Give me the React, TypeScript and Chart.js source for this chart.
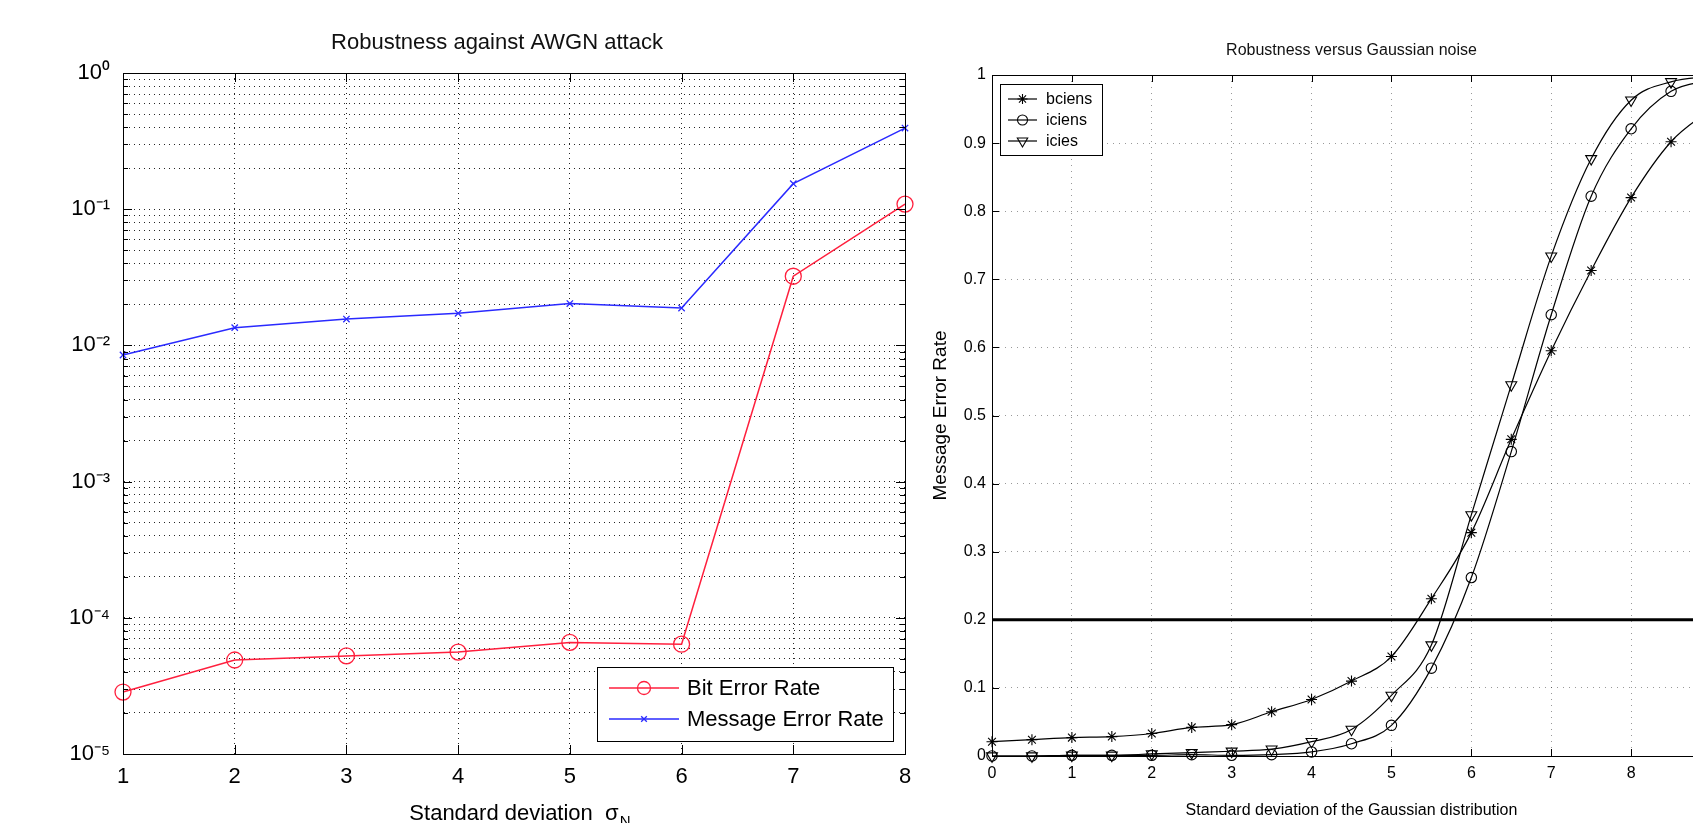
import React, { useEffect, useRef } from 'react';
import { Chart, registerables } from 'chart.js';

Chart.register(...registerables);

// ---------------- Left chart data ----------------
const sigmaN = [1, 2, 3, 4, 5, 6, 7, 8];
const bitErrorRate = [2.85e-5, 4.9e-5, 5.25e-5, 5.6e-5, 6.6e-5, 6.4e-5, 0.0322, 0.109];
const messageErrorRate = [0.0085, 0.0135, 0.0156, 0.0172, 0.0203, 0.0188, 0.154, 0.394];
const leftYExponents = [-5, -4, -3, -2, -1, 0];
const leftXTickValues = [1, 2, 3, 4, 5, 6, 7, 8];

// ---------------- Right chart data ----------------
const gaussianStd = [0, 0.5, 1, 1.5, 2, 2.5, 3, 3.5, 4, 4.5, 5, 5.5, 6, 6.5, 7, 7.5, 8, 8.5, 9];
const bciens = [0.021, 0.024, 0.027, 0.0285, 0.033, 0.042, 0.046, 0.065, 0.083, 0.11, 0.146, 0.231, 0.328, 0.465, 0.595, 0.713, 0.82, 0.902, 0.95];
const iciens = [0.0, 0.0, 0.001, 0.001, 0.001, 0.002, 0.001, 0.002, 0.006, 0.018, 0.045, 0.129, 0.262, 0.447, 0.648, 0.822, 0.921, 0.976, 0.993];
const icies = [0.0, 0.0, 0.001, 0.001, 0.003, 0.005, 0.007, 0.01, 0.021, 0.039, 0.089, 0.163, 0.354, 0.545, 0.734, 0.877, 0.963, 0.99, 0.998];
const thresholdX = [0, 9];
const thresholdY = [0.2, 0.2];
const rightYTickLabels = ['0', '0.1', '0.2', '0.3', '0.4', '0.5', '0.6', '0.7', '0.8', '0.9', '1'];
const rightXTickLabels = ['0', '1', '2', '3', '4', '5', '6', '7', '8', '9'];

const FONT_SANS = '"Liberation Sans", Arial, Helvetica, sans-serif';

const SUP: Record<string, string> = {
  '-': '\u207B', '0': '\u2070', '1': '\u00B9', '2': '\u00B2', '3': '\u00B3',
  '4': '\u2074', '5': '\u2075', '6': '\u2076', '7': '\u2077', '8': '\u2078', '9': '\u2079',
};
const toSup = (s: string) => s.split('').map((c) => SUP[c] ?? c).join('');
const isDecade = (v: number) => Math.abs(Math.log10(v) - Math.round(Math.log10(v))) < 1e-6;

const zip = (xs: number[], ys: number[]) => xs.map((x, i) => ({ x, y: ys[i] }));

function drawMarker(ctx: CanvasRenderingContext2D, style: string, x: number, y: number, r: number, color: string, lw: number) {
  ctx.save();
  ctx.setLineDash([]);
  ctx.strokeStyle = color;
  ctx.lineWidth = lw;
  ctx.beginPath();
  if (style === 'circle') {
    ctx.arc(x, y, r, 0, Math.PI * 2);
  } else if (style === 'crossRot' || style === 'star') {
    const d = r * Math.SQRT1_2;
    ctx.moveTo(x - d, y - d); ctx.lineTo(x + d, y + d);
    ctx.moveTo(x - d, y + d); ctx.lineTo(x + d, y - d);
    if (style === 'star') {
      ctx.moveTo(x - r, y); ctx.lineTo(x + r, y);
      ctx.moveTo(x, y - r); ctx.lineTo(x, y + r);
    }
  } else if (style === 'triangleDown') {
    const s = r * Math.sin(Math.PI / 3);
    ctx.moveTo(x, y + r);
    ctx.lineTo(x - s, y - r / 2);
    ctx.lineTo(x + s, y - r / 2);
    ctx.closePath();
  }
  ctx.stroke();
  ctx.restore();
}

// Draws the MATLAB-like closed box, inward tick marks and a boxed legend.
const matlabFrame = {
  id: 'matlabFrame',
  afterDraw(chart: any, _args: any, opts: any) {
    const { ctx, chartArea } = chart;
    const { left, right, top, bottom } = chartArea;
    const xs = chart.scales.x;
    const ys = chart.scales.y;
    ctx.save();
    ctx.setLineDash([]);
    ctx.strokeStyle = '#000';
    ctx.lineWidth = 1;
    ctx.beginPath();
    xs.ticks.forEach((t: any) => {
      const px = Math.round(xs.getPixelForValue(t.value)) + 0.5;
      const len = opts.majorLen;
      ctx.moveTo(px, bottom); ctx.lineTo(px, bottom - len);
      ctx.moveTo(px, top); ctx.lineTo(px, top + len);
    });
    ys.ticks.forEach((t: any) => {
      const py = Math.round(ys.getPixelForValue(t.value)) + 0.5;
      const major = opts.log ? isDecade(t.value) : true;
      const len = major ? opts.majorLen : opts.minorLen;
      ctx.moveTo(left, py); ctx.lineTo(left + len, py);
      ctx.moveTo(right, py); ctx.lineTo(right - len, py);
    });
    ctx.stroke();
    ctx.lineWidth = opts.frameWidth || 1;
    ctx.strokeRect(Math.round(left) + 0.5, Math.round(top) + 0.5, Math.round(right - left), Math.round(bottom - top));

    // subscript after the x-axis title (left chart)
    if (opts.xSub) {
      const tOpts = xs.options.title;
      const fs = tOpts.font.size;
      ctx.font = `${fs}px ${tOpts.font.family}`;
      const w = ctx.measureText(tOpts.text).width;
      const cx = (left + right) / 2;
      const cy = xs.bottom - fs * 1.2 / 2 - tOpts.padding.bottom;
      ctx.fillStyle = '#000';
      ctx.font = `${Math.round(fs * 0.7)}px ${tOpts.font.family}`;
      ctx.textBaseline = 'middle';
      ctx.textAlign = 'left';
      ctx.fillText(opts.xSub, cx + w / 2 + 1, cy + fs * 0.35);
    }

    // legend
    const L = opts.legend;
    if (L) {
      const bx = L.anchor === 'br' ? right - L.offX - L.w : left + L.offX;
      const by = L.anchor === 'br' ? bottom - L.offY - L.h : top + L.offY;
      ctx.fillStyle = '#fff';
      ctx.fillRect(bx, by, L.w, L.h);
      ctx.strokeStyle = '#000';
      ctx.lineWidth = 1;
      ctx.strokeRect(Math.round(bx) + 0.5, Math.round(by) + 0.5, L.w, L.h);
      ctx.font = `${L.fontSize}px ${L.fontFamily}`;
      ctx.textAlign = 'left';
      ctx.textBaseline = 'middle';
      L.items.forEach((it: any, i: number) => {
        const ds = chart.data.datasets[it.ds];
        const ry = by + L.rows[i];
        ctx.strokeStyle = ds.borderColor;
        ctx.lineWidth = ds.borderWidth;
        ctx.beginPath();
        ctx.moveTo(bx + L.lineX0, ry);
        ctx.lineTo(bx + L.lineX1, ry);
        ctx.stroke();
        drawMarker(ctx, it.marker, bx + (L.lineX0 + L.lineX1) / 2, ry, it.r, ds.borderColor, it.lw);
        ctx.fillStyle = '#000';
        ctx.fillText(ds.label, bx + L.textX, ry + 1);
      });
    }
    ctx.restore();
  },
};

function leftConfig(): any {
  return {
    type: 'line',
    data: {
      datasets: [
        {
          label: 'Bit Error Rate',
          data: zip(sigmaN, bitErrorRate),
          borderColor: '#ff1f3d',
          backgroundColor: 'rgba(0,0,0,0)',
          borderWidth: 1.5,
          pointStyle: 'circle',
          pointRadius: 8,
          pointBorderWidth: 1.3,
          pointBorderColor: '#ff1f3d',
          pointBackgroundColor: 'rgba(0,0,0,0)',
          tension: 0,
          clip: false,
        },
        {
          label: 'Message Error Rate',
          data: zip(sigmaN, messageErrorRate),
          borderColor: '#2a2aff',
          backgroundColor: 'rgba(0,0,0,0)',
          borderWidth: 1.5,
          pointStyle: 'crossRot',
          pointRadius: 4.5,
          pointBorderWidth: 1.3,
          pointBorderColor: '#2a2aff',
          tension: 0,
          clip: false,
        },
      ],
    },
    options: {
      responsive: false,
      animation: false,
      events: [],
      layout: { padding: { left: 0, right: 0, top: 0, bottom: 0 } },
      plugins: {
        legend: { display: false },
        tooltip: { enabled: false },
        title: {
          display: true,
          text: 'Robustness against AWGN attack',
          fullSize: true,
          color: '#111',
          font: { family: FONT_SANS, size: 22, weight: 'normal' },
          padding: { top: 29.8, bottom: 16.8 },
        },
        matlabFrame: {
          log: true,
          majorLen: 9,
          minorLen: 5,
          xSub: 'N',
          legend: {
            anchor: 'br', offX: 12, offY: 13, w: 296, h: 74,
            rows: [21, 52], lineX0: 12, lineX1: 82, textX: 90,
            fontSize: 22, fontFamily: FONT_SANS,
            items: [
              { ds: 0, marker: 'circle', r: 6.5, lw: 1.3 },
              { ds: 1, marker: 'crossRot', r: 4, lw: 1.3 },
            ],
          },
        },
      },
      scales: {
        x: {
          type: 'linear',
          min: 1,
          max: 8,
          afterBuildTicks: (scale: any) => {
            scale.ticks = leftXTickValues.map((v) => ({ value: v }));
          },
          afterFit: (scale: any) => { scale.height = 96; },
          ticks: {
            autoSkip: false,
            maxRotation: 0,
            padding: 9.5,
            color: '#000',
            font: { family: FONT_SANS, size: 22 },
            callback: (v: number) => String(v),
          },
          grid: { color: 'rgba(0,0,0,0.85)', lineWidth: 1, drawTicks: false },
          border: { display: true, color: '#000', width: 1, dash: [1, 4] },
          title: {
            display: true,
            text: 'Standard deviation  \u03C3',
            color: '#000',
            font: { family: FONT_SANS, size: 22 },
            padding: { top: 0, bottom: 23 },
          },
        },
        y: {
          type: 'logarithmic',
          min: 1e-5,
          max: 1,
          afterBuildTicks: (scale: any) => {
            const ticks: any[] = [];
            leftYExponents.forEach((e, i) => {
              const maxM = i === leftYExponents.length - 1 ? 1 : 9;
              for (let m = 1; m <= maxM; m++) ticks.push({ value: m * Math.pow(10, e), major: m === 1 });
            });
            scale.ticks = ticks;
          },
          afterFit: (scale: any) => { scale.width = 123; },
          ticks: {
            autoSkip: false,
            padding: 13,
            color: '#000',
            font: { family: FONT_SANS, size: 22 },
            callback: (v: number) => (isDecade(v) ? '10' + toSup(String(Math.round(Math.log10(v)))) : ''),
          },
          grid: { color: 'rgba(0,0,0,0.85)', lineWidth: 1, drawTicks: false },
          border: { display: true, color: '#000', width: 1, dash: [1, 4] },
        },
        // empty spacer on the right so the full-width title sits where the original does
        spacer: {
          type: 'linear',
          position: 'right',
          display: true,
          afterFit: (scale: any) => { scale.width = 89; },
          ticks: { display: false },
          grid: { display: false, drawTicks: false },
          border: { display: false },
        },
      },
    },
    plugins: [matlabFrame],
  };
}

function rightConfig(): any {
  const common = {
    borderColor: '#000',
    backgroundColor: 'rgba(0,0,0,0)',
    borderWidth: 1.2,
    pointBorderColor: '#000',
    pointBackgroundColor: 'rgba(0,0,0,0)',
    pointBorderWidth: 1.1,
    cubicInterpolationMode: 'monotone',
    clip: false,
  };
  return {
    type: 'line',
    data: {
      datasets: [
        { ...common, label: 'bciens', data: zip(gaussianStd, bciens), pointStyle: 'star', pointRadius: 5.5 },
        { ...common, label: 'iciens', data: zip(gaussianStd, iciens), pointStyle: 'circle', pointRadius: 5.2 },
        { ...common, label: 'icies', data: zip(gaussianStd, icies), pointStyle: 'triangle', pointRotation: 180, pointRadius: 6.3 },
        {
          label: 'threshold',
          data: zip(thresholdX, thresholdY),
          borderColor: '#000',
          borderWidth: 3,
          pointRadius: 0,
          tension: 0,
          clip: false,
        },
      ],
    },
    options: {
      responsive: false,
      animation: false,
      events: [],
      layout: { padding: { left: 0, right: 19, top: 0, bottom: 0 } },
      plugins: {
        legend: { display: false },
        tooltip: { enabled: false },
        title: {
          display: true,
          text: 'Robustness versus Gaussian noise',
          fullSize: false,
          color: '#111',
          font: { family: FONT_SANS, size: 16, weight: 'normal' },
          padding: { top: 41.4, bottom: 14.4 },
        },
        matlabFrame: {
          log: false,
          majorLen: 7,
          minorLen: 7,
          legend: {
            anchor: 'tl', offX: 8, offY: 9, w: 102, h: 71,
            rows: [15, 36, 57], lineX0: 8, lineX1: 37, textX: 46,
            fontSize: 16, fontFamily: FONT_SANS,
            items: [
              { ds: 0, marker: 'star', r: 5, lw: 1.1 },
              { ds: 1, marker: 'circle', r: 5, lw: 1.1 },
              { ds: 2, marker: 'triangleDown', r: 6, lw: 1.1 },
            ],
          },
        },
      },
      scales: {
        x: {
          type: 'linear',
          min: 0,
          max: 9,
          afterBuildTicks: (scale: any) => {
            scale.ticks = rightXTickLabels.map((_, i) => ({ value: i }));
          },
          afterFit: (scale: any) => { scale.height = 67; },
          ticks: {
            autoSkip: false,
            maxRotation: 0,
            padding: 8,
            color: '#000',
            font: { family: FONT_SANS, size: 16 },
            callback: (_v: number, i: number) => rightXTickLabels[i],
          },
          grid: { color: 'rgba(0,0,0,0.4)', lineWidth: 1, drawTicks: false },
          border: { display: true, color: '#000', width: 1, dash: [1, 5] },
          title: {
            display: true,
            text: 'Standard deviation of the Gaussian distribution',
            color: '#000',
            font: { family: FONT_SANS, size: 16 },
            padding: { top: 0, bottom: 2.9 },
          },
        },
        y: {
          type: 'linear',
          min: 0,
          max: 1,
          afterBuildTicks: (scale: any) => {
            scale.ticks = rightYTickLabels.map((_, i) => ({ value: i / 10 }));
          },
          afterFit: (scale: any) => { scale.width = 67; },
          ticks: {
            autoSkip: false,
            padding: 6,
            color: '#000',
            font: { family: FONT_SANS, size: 16 },
            callback: (_v: number, i: number) => rightYTickLabels[i],
          },
          grid: { color: 'rgba(0,0,0,0.4)', lineWidth: 1, drawTicks: false },
          border: { display: true, color: '#000', width: 1, dash: [1, 5] },
          title: {
            display: true,
            text: 'Message Error Rate',
            color: '#000',
            font: { family: FONT_SANS, size: 19 },
            padding: { top: 4.6, bottom: 0 },
          },
        },
      },
    },
    plugins: [matlabFrame],
  };
}

export default function App() {
  const leftRef = useRef<HTMLCanvasElement>(null);
  const rightRef = useRef<HTMLCanvasElement>(null);

  useEffect(() => {
    const c1 = new Chart(leftRef.current as HTMLCanvasElement, leftConfig());
    const c2 = new Chart(rightRef.current as HTMLCanvasElement, rightConfig());
    return () => {
      c1.destroy();
      c2.destroy();
    };
  }, []);

  return (
    <div style={{ position: 'fixed', left: 0, top: 0, width: '100vw', height: '100vh', overflow: 'hidden', background: '#fff' }}>
      <canvas ref={leftRef} width={994} height={850} style={{ position: 'absolute', left: 0, top: 0, width: 994, height: 850 }} />
      <canvas ref={rightRef} width={805} height={823} style={{ position: 'absolute', left: 925, top: 0, width: 805, height: 823 }} />
    </div>
  );
}
